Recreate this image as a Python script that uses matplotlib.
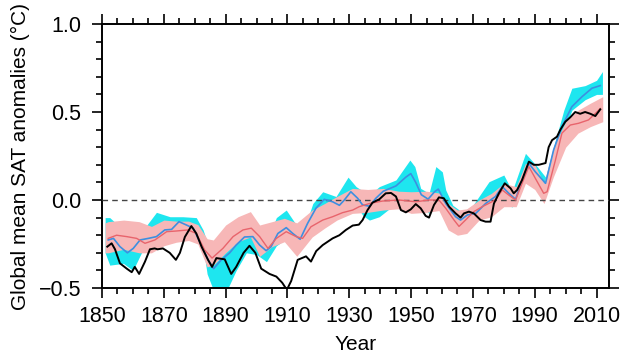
import numpy as np
import matplotlib
matplotlib.use("Agg")
import matplotlib.pyplot as plt
from matplotlib.ticker import MultipleLocator

# ---------------- data ----------------
obs_year = [1851.7, 1853.1, 1854.2, 1855.8, 1858.0, 1859.6, 1860.6, 1862.0, 1863.9, 1865.5,
            1867.0, 1868.0, 1869.7, 1871.9, 1873.9, 1875.2, 1876.8, 1878.9, 1880.5, 1882.2,
            1884.3, 1885.6, 1887.0, 1889.7, 1891.8, 1893.4, 1895.8, 1897.7, 1899.6, 1901.5,
            1904.2, 1906.4, 1908.3, 1909.8, 1911.2, 1913.3, 1916.0, 1917.6, 1919.3, 1921.4,
            1924.6, 1926.8, 1928.9, 1931.1, 1933.1, 1934.3, 1935.9, 1937.5, 1939.7, 1941.8,
            1943.5, 1945.1, 1946.7, 1948.3, 1949.9, 1951.5, 1953.1, 1954.7, 1955.8, 1957.4,
            1959.0, 1960.6, 1962.3, 1964.4, 1966.0, 1967.1, 1968.7, 1970.3, 1972.5, 1974.1,
            1975.7, 1976.8, 1978.4, 1980.3, 1982.2, 1983.2, 1984.3, 1985.9, 1988.1, 1989.7,
            1991.3, 1993.5, 1994.5, 1995.6, 1997.2, 1998.3, 1999.9, 2001.5, 2003.1, 2004.7,
            2006.3, 2008.0, 2009.6, 2011.2]
obs_val = [-0.265, -0.246, -0.28, -0.36, -0.39, -0.41, -0.38, -0.42, -0.35, -0.28,
           -0.275, -0.28, -0.275, -0.30, -0.34, -0.30, -0.21, -0.148, -0.19, -0.265,
           -0.34, -0.38, -0.33, -0.337, -0.42, -0.38, -0.30, -0.26, -0.30, -0.39,
           -0.42, -0.435, -0.47, -0.51, -0.46, -0.34, -0.32, -0.35, -0.29, -0.256,
           -0.218, -0.20, -0.17, -0.145, -0.14, -0.114, -0.057, -0.015, 0.004, 0.038,
           0.04, 0.02, -0.057, -0.07, -0.053, -0.023, -0.047, -0.09, -0.10, -0.028,
           0.015, 0.01, -0.038, -0.076, -0.10, -0.076, -0.066, -0.076, -0.114, -0.123,
           -0.123, -0.02, 0.038, 0.095, 0.066, 0.038, 0.057, 0.114, 0.218, 0.20,
           0.20, 0.21, 0.30, 0.34, 0.36, 0.40, 0.445, 0.47, 0.50, 0.49,
           0.50, 0.49, 0.477, 0.515]

blue_year = [1852.0, 1853.7, 1855.8, 1858.2, 1860.1, 1862.3, 1865.0, 1867.6, 1870.3, 1872.5,
             1874.9, 1877.3, 1879.5, 1881.6, 1884.3, 1886.1, 1888.6, 1891.3, 1893.4, 1896.1,
             1898.8, 1901.0, 1903.1, 1904.7, 1906.9, 1909.6, 1911.7, 1914.1, 1916.5, 1919.2,
             1921.9, 1924.6, 1926.8, 1928.4, 1930.5, 1932.7, 1934.3, 1936.5, 1938.6, 1941.0,
             1945.1, 1948.3, 1949.9, 1951.5, 1953.3, 1955.5, 1957.6, 1958.8, 1961.2, 1964.4,
             1966.0, 1968.2, 1970.9, 1974.1, 1977.3, 1979.5, 1981.6, 1983.8, 1985.9, 1988.1,
             1990.2, 1993.5, 1996.1, 1998.8, 2002.0, 2005.3, 2008.5, 2011.2]
blue_val = [-0.227, -0.218, -0.265, -0.30, -0.275, -0.227, -0.218, -0.208, -0.17, -0.167,
            -0.123, -0.142, -0.16, -0.237, -0.34, -0.39, -0.34, -0.30, -0.256, -0.21,
            -0.208, -0.256, -0.288, -0.265, -0.19, -0.157, -0.19, -0.223, -0.133, -0.047,
            0.004, -0.01, -0.03, 0.0, 0.047, 0.01, -0.028, -0.035, 0.01, 0.05,
            0.08, 0.13, 0.15, 0.10, 0.03, 0.005, 0.047, 0.062, -0.02, -0.095,
            -0.114, -0.085, -0.076, -0.02, 0.02, 0.076, 0.038, 0.004, 0.114, 0.208,
            0.16, 0.095, 0.284, 0.417, 0.53, 0.587, 0.635, 0.65]

red_year = [1852.0, 1854.7, 1858.0, 1861.2, 1863.9, 1867.1, 1870.9, 1874.1, 1877.8, 1880.5,
            1883.2, 1885.6, 1889.1, 1892.4, 1895.6, 1898.3, 1901.0, 1903.7, 1906.4, 1909.6,
            1912.8, 1914.9, 1917.6, 1921.4, 1924.6, 1927.8, 1931.1, 1933.2, 1936.5, 1940.7,
            1946.1, 1951.5, 1955.8, 1959.0, 1961.2, 1963.9, 1965.5, 1967.6, 1970.3, 1973.0,
            1977.3, 1979.5, 1981.6, 1983.8, 1985.9, 1988.1, 1990.2, 1992.9, 1994.0, 1996.7,
            1998.8, 2001.5, 2004.2, 2007.4, 2010.1, 2011.2]
red_val = [-0.218, -0.20, -0.208, -0.218, -0.246, -0.227, -0.18, -0.176, -0.17, -0.19,
           -0.284, -0.33, -0.275, -0.208, -0.17, -0.16, -0.208, -0.275, -0.218, -0.18,
           -0.208, -0.218, -0.152, -0.114, -0.095, -0.072, -0.057, -0.038, -0.02, -0.006,
           0.0, -0.01, 0.0, 0.0, -0.047, -0.114, -0.15, -0.114, -0.066, -0.038,
           0.0, 0.057, 0.028, 0.0, 0.095, 0.19, 0.123, 0.038, 0.047, 0.227,
           0.38, 0.426, 0.436, 0.455, 0.50, 0.52]

cyan_year = [1851.0, 1852.5, 1856.9, 1860.0, 1863.3, 1867.6, 1872.0, 1876.2, 1880.5, 1882.7,
             1884.0, 1886.0, 1890.5, 1893.4, 1896.7, 1900.0, 1903.2, 1906.4, 1909.6, 1912.8,
             1914.9, 1918.2, 1921.4, 1925.7, 1929.6, 1932.2, 1934.5, 1936.5, 1939.7, 1945.1,
             1949.6, 1951.2, 1953.1, 1955.8, 1958.0, 1960.1, 1961.2, 1963.5, 1966.6, 1970.0,
             1975.2, 1980.0, 1982.7, 1987.0, 1990.8, 1993.5, 1996.7, 1999.4, 2002.0, 2006.3,
             2010.0, 2011.9]
cyan_upper = [-0.10, -0.10, -0.17, -0.20, -0.17, -0.07, -0.095, -0.095, -0.10, -0.17,
              -0.24, -0.30, -0.26, -0.20, -0.17, -0.18, -0.24, -0.10, -0.057, -0.14,
              -0.19, -0.02, 0.047, 0.02, 0.13, 0.076, 0.05, 0.028, 0.076, 0.114,
              0.227, 0.19, 0.066, 0.038, 0.19, 0.16, 0.057, -0.03, -0.07, -0.03,
              0.104, 0.142, 0.05, 0.265, 0.19, 0.13, 0.34, 0.51, 0.635, 0.65,
              0.68, 0.73]
cyan_lower = [-0.30, -0.37, -0.36, -0.40, -0.28, -0.26, -0.24, -0.19, -0.20, -0.265,
              -0.42, -0.51, -0.51, -0.40, -0.30, -0.31, -0.35, -0.26, -0.22, -0.26,
              -0.27, -0.10, -0.05, -0.07, -0.05, -0.03, -0.09, -0.114, -0.095, -0.02,
              0.02, 0.0, -0.03, -0.076, -0.02, -0.03, -0.07, -0.14, -0.17, -0.12,
              -0.08, -0.02, -0.04, 0.14, 0.10, 0.066, 0.24, 0.38, 0.51, 0.57,
              0.60, 0.60]

pink_year = [1851.0, 1852.0, 1857.0, 1862.0, 1866.0, 1870.0, 1874.0, 1878.0, 1881.0, 1884.0,
             1886.0, 1890.0, 1894.0, 1898.0, 1901.0, 1905.0, 1909.0, 1913.0, 1918.0, 1922.0,
             1926.0, 1931.0, 1936.0, 1941.0, 1946.0, 1950.0, 1955.0, 1959.0, 1962.0, 1965.0,
             1968.0, 1972.0, 1976.0, 1980.0, 1984.0, 1987.0, 1990.0, 1993.0, 1996.0, 2000.0,
             2004.0, 2008.0, 2012.0]
pink_upper = [-0.13, -0.123, -0.114, -0.123, -0.15, -0.114, -0.12, -0.12, -0.14, -0.22,
              -0.227, -0.142, -0.095, -0.066, -0.142, -0.123, -0.104, -0.13, -0.057, -0.02,
              0.02, 0.066, 0.06, 0.066, 0.05, 0.047, 0.05, 0.04, -0.02, -0.057,
              -0.05, 0.0, 0.038, 0.095, 0.076, 0.208, 0.20, 0.095, 0.30, 0.445,
              0.51, 0.55, 0.587]
pink_lower = [-0.30, -0.30, -0.28, -0.30, -0.30, -0.26, -0.24, -0.23, -0.25, -0.38,
              -0.37, -0.30, -0.237, -0.21, -0.32, -0.265, -0.237, -0.32, -0.21, -0.16,
              -0.114, -0.076, -0.07, -0.057, -0.05, -0.076, -0.07, -0.06, -0.17, -0.20,
              -0.19, -0.114, -0.095, -0.038, -0.038, 0.095, 0.06, -0.02, 0.13, 0.30,
              0.38, 0.417, 0.445]

x_ticks = [1850, 1870, 1890, 1910, 1930, 1950, 1970, 1990, 2010]
y_ticks = [-0.5, 0.0, 0.5, 1.0]

# ---------------- figure ----------------
plt.rcParams['font.family'] = ['Liberation Sans', 'DejaVu Sans']
fig = plt.figure(figsize=(6.31, 3.54), dpi=100)
ax = fig.add_axes([0.1617, 0.1864, 0.8033, 0.7458])

ax.fill_between(cyan_year, cyan_lower, cyan_upper, color='#1ee6ef', lw=0, zorder=1)
ax.fill_between(pink_year, pink_lower, pink_upper, color='#f7b7b7', lw=0, zorder=2)
ax.axhline(0.0, color='#444444', lw=1.0, ls=(0, (4, 3)), zorder=3)
ax.plot(blue_year, blue_val, color='#3d8fe0', lw=1.2, zorder=4)
ax.plot(red_year, red_val, color='#e8646c', lw=1.0, zorder=5)
ax.plot(obs_year, obs_val, color='black', lw=1.4, zorder=6)

ax.set_xlim(1850, 2014)
ax.set_ylim(-0.5, 1.0)
ax.set_xticks(x_ticks)
ax.set_xticklabels([str(v) for v in x_ticks])
ax.set_yticks(y_ticks)
ax.set_yticklabels([f"{v:.1f}".replace('-', '\u2212') for v in y_ticks])
ax.xaxis.set_minor_locator(MultipleLocator(5))
ax.yaxis.set_minor_locator(MultipleLocator(0.1))
ax.tick_params(which='both', direction='out', top=True, right=True,
               labeltop=False, labelright=False, width=1.2, colors='black')
ax.tick_params(which='major', length=7, labelsize=15.5)
ax.tick_params(axis='x', which='major', pad=6)
ax.tick_params(axis='y', which='major', pad=8)
ax.tick_params(which='minor', length=4.5)
for s in ax.spines.values():
    s.set_linewidth(1.4)

ax.set_xlabel('Year', fontsize=15, labelpad=6)
ax.set_ylabel('Global mean SAT anomalies (\u00b0C)', fontsize=15, labelpad=6)

fig.savefig('out.png', dpi=100)
